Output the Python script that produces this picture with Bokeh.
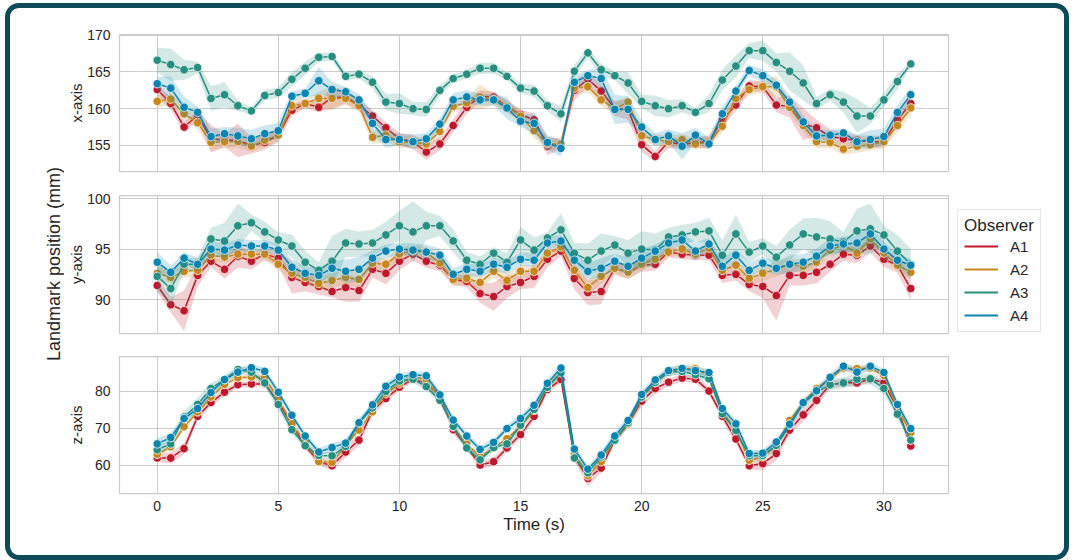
import numpy as np
from bokeh.plotting import figure
from bokeh.layouts import column, row
from bokeh.models import Range1d, FixedTicker, Legend, LegendItem, Title
from bokeh.embed import file_html
from bokeh.resources import INLINE

# ---------------- data ----------------
time_s = [0.00, 0.56, 1.11, 1.67, 2.22, 2.78, 3.33, 3.89, 4.44, 5.00,
          5.56, 6.11, 6.67, 7.22, 7.78, 8.33, 8.89, 9.44, 10.00, 10.56,
          11.11, 11.67, 12.22, 12.78, 13.33, 13.89, 14.44, 15.00, 15.56, 16.11,
          16.67, 17.22, 17.78, 18.33, 18.89, 19.44, 20.00, 20.56, 21.11, 21.67,
          22.22, 22.78, 23.33, 23.89, 24.44, 25.00, 25.56, 26.11, 26.67, 27.22,
          27.78, 28.33, 28.89, 29.44, 30.00, 30.56, 31.11]

observers = ["A1", "A2", "A3", "A4"]
colors = ["#c0182c", "#c8871e", "#268f80", "#0c85b0"]

# x-axis panel (mean and CI half width)
x_A1 = [162.6,160.7,157.5,159.1,155.9,155.7,155.7,155.0,155.4,156.4, 159.8,160.7,160.2,161.5,161.6,160.5,159.0,157.4,155.9,155.5,
        154.1,155.2,157.7,160.2,161.7,161.6,160.3,159.2,158.5,154.9, 155.2,162.5,164.0,162.4,160.0,159.9,155.1,153.5,155.5,155.1,
        155.4,155.5,158.5,160.5,163.1,163.0,160.5,160.3,157.9,157.4, 156.2,155.9,155.7,155.5,155.5,158.5,160.7]
x_A2 = [161.0,161.3,159.3,158.1,155.4,155.5,155.5,154.9,155.7,156.4, 160.4,160.7,161.4,161.4,161.4,160.4,156.1,156.4,155.5,155.4,
        155.2,156.9,160.3,160.8,161.6,161.3,160.3,159.0,157.0,155.2, 155.2,162.8,163.0,161.2,160.0,160.9,156.3,155.8,155.5,155.8,
        155.2,155.4,157.6,161.4,162.6,163.0,163.0,160.2,157.7,155.5, 155.4,154.5,154.9,155.1,155.5,157.7,160.1]
x_A3 = [166.6,166.0,165.3,165.6,161.4,161.9,160.4,159.7,161.8,162.2, 164.0,165.5,167.0,167.1,164.4,164.7,163.6,160.9,160.7,160.0,
        159.9,162.5,164.1,164.7,165.5,165.5,164.4,162.8,162.4,160.4, 159.3,165.1,167.6,165.3,164.5,163.5,161.0,160.4,160.0,160.4,
        159.5,160.7,163.9,165.8,167.9,167.9,166.3,165.1,163.5,160.7, 161.9,160.9,159.0,159.0,161.2,163.7,166.1]
x_A4 = [163.4,162.8,160.2,159.5,156.2,156.6,156.3,155.9,156.6,157.0, 161.7,162.1,163.8,162.6,162.3,161.2,158.0,155.8,155.8,155.5,
        155.9,157.9,161.2,161.6,161.2,161.2,160.1,158.3,158.0,155.4, 154.6,163.6,164.5,164.1,159.9,159.9,157.5,155.8,156.3,154.9,
        156.4,155.2,159.3,162.4,165.2,164.5,163.2,160.9,158.2,156.3, 156.4,156.7,155.5,155.8,156.2,159.5,161.9]
x_ci_A1 = [0.9,0.8,0.8,0.5,1.9,0.9,2.3,1.1,1.0,0.9, 0.8,0.6,0.7,1.5,0.9,0.8,0.8,0.8,0.8,1.0, 1.1,0.9,0.9,0.9,0.8,0.7,0.8,0.7,0.8,1.25,
           0.7,1.4,1.0,1.0,1.0,1.4,1.0,0.7,0.9,0.6, 0.7,0.9,0.9,0.8,0.8,0.7,1.0,1.5,2.2,1.1, 1.0,0.9,0.7,0.8,0.8,0.8,0.9]
x_ci_A2 = [0.8,0.9,0.9,0.9,1.1,0.8,0.8,0.8,0.9,0.9, 0.8,0.7,0.9,1.6,0.9,0.8,0.9,0.9,0.8,0.8, 0.9,0.8,0.8,0.8,1.7,0.8,0.8,0.8,1.0,0.9,
           0.7,0.8,0.8,0.8,0.9,0.8,0.8,0.8,0.8,0.8, 0.7,0.8,0.8,0.9,0.8,0.8,1.5,0.9,0.9,0.9, 0.8,0.8,0.9,0.8,0.9,0.9,1.0]
x_ci_A3 = [1.7,2.2,1.4,0.8,1.7,1.7,0.7,0.5,0.7,0.7, 1.0,0.9,0.6,0.5,0.6,0.6,0.8,1.1,1.4,0.9, 1.0,0.7,0.6,0.6,0.75,0.75,0.5,0.7,0.8,0.7,
           1.1,0.9,0.7,0.8,0.6,1.5,0.9,1.4,1.2,0.9, 0.6,1.2,1.4,1.5,1.0,1.4,1.25,2.6,2.4,0.9, 0.8,1.4,2.3,1.1,0.9,1.1,0.35]
x_ci_A4 = [0.9,1.6,1.4,0.8,1.1,0.9,1.1,1.25,1.1,1.1, 0.7,0.6,1.9,1.0,0.7,0.8,1.5,1.1,0.8,1.0, 0.8,0.8,0.9,0.9,0.8,0.8,1.5,0.8,1.4,1.0,
           1.1,0.9,0.8,1.4,2.0,1.8,0.9,0.9,0.9,1.8, 1.0,0.8,0.9,0.8,0.7,0.9,0.7,0.9,0.9,0.9, 0.7,0.6,1.0,1.25,1.1,1.0,1.0]

# y-axis panel
y_A1 = [91.4,89.5,88.9,92.4,93.8,93.0,94.3,93.8,94.5,94.1, 92.2,91.7,91.3,90.8,91.2,90.9,93.0,92.6,93.8,94.5,
        93.8,93.4,92.0,91.8,90.6,90.3,91.3,91.7,92.3,94.0, 94.8,92.1,90.7,90.8,93.1,92.7,93.4,93.5,94.7,94.5,
        94.4,94.4,92.4,92.5,91.5,91.3,90.4,92.4,92.4,92.7, 93.5,94.5,94.4,95.3,94.0,93.4,91.1]
y_A2 = [92.6,92.2,92.8,92.9,94.4,94.2,94.5,94.5,94.5,93.5, 92.6,92.2,91.6,91.9,92.2,92.0,93.6,93.5,94.5,94.8,
        94.7,93.6,92.0,92.1,91.7,92.8,91.9,92.8,92.8,94.6, 95.2,92.9,91.2,92.3,93.1,92.7,93.5,94.0,94.7,95.0,
        94.5,95.1,92.9,93.4,92.1,92.6,93.0,93.5,93.3,93.7, 94.9,95.4,94.6,96.0,94.6,93.4,92.7]
y_A3 = [92.3,91.1,93.5,93.5,96.0,95.8,97.3,97.6,96.7,95.9, 95.3,93.7,92.9,93.8,95.6,95.5,95.6,96.4,97.3,96.7,
        97.3,97.3,95.8,93.9,93.5,94.6,93.7,95.9,94.9,96.1, 96.9,94.6,93.9,94.8,95.4,94.6,95.0,94.9,96.2,96.4,
        96.7,96.8,94.4,96.5,94.7,95.3,94.2,95.4,96.5,96.2, 96.0,95.7,96.8,97.0,96.4,94.8,93.5]
y_A4 = [93.7,92.7,94.1,93.5,95.0,94.9,95.4,95.3,95.3,94.9, 93.2,92.6,92.4,93.1,92.8,93.0,94.1,94.8,95.0,94.9,
        94.7,94.4,92.5,93.0,92.8,93.5,93.2,94.0,93.9,95.6, 95.8,93.9,92.8,93.1,93.8,93.3,94.1,94.8,95.6,95.9,
        94.8,95.5,93.3,94.4,92.9,93.6,93.1,93.5,93.7,94.3, 95.3,95.5,95.6,96.5,95.0,93.9,93.4]
y_ci_A1 = [0.65,0.75,2.0,1.1,0.6,0.9,1.15,0.8,0.6,0.75, 1.6,0.9,0.8,0.6,1.4,1.1,0.8,1.1,0.9,0.65, 0.65,0.6,0.5,0.6,0.9,1.4,1.15,0.65,1.15,0.8,
           0.5,1.1,1.25,1.25,0.6,0.65,0.65,0.65,0.5,0.5, 0.5,0.5,0.75,0.6,0.65,1.15,2.5,1.0,1.0,1.1, 0.75,0.65,0.8,0.65,0.75,0.75,1.15]
y_ci_A2 = [0.7,0.6,0.6,0.6,0.6,0.6,0.55,0.5,0.55,0.6, 0.65,0.6,0.65,0.7,0.75,0.8,0.65,0.6,0.55,0.55, 0.55,0.6,0.7,0.65,0.7,0.6,0.7,0.6,0.6,0.55,
           0.5,0.65,0.8,0.7,0.6,0.65,0.6,0.55,0.5,0.5, 0.55,0.5,0.65,0.6,0.7,0.75,0.7,0.65,0.65,0.6, 0.55,0.55,0.6,0.55,0.6,0.6,0.65]
y_ci_A3 = [1.4,1.8,0.6,0.65,1.1,1.8,2.2,0.8,1.0,0.75, 1.15,1.1,0.8,2.5,1.4,1.25,1.3,1.3,1.5,3.0, 1.4,1.0,1.15,0.8,0.8,0.6,0.9,1.3,1.25,0.6,
           1.65,1.0,1.65,1.75,0.9,1.3,1.8,1.65,0.9,1.0, 0.9,1.3,1.5,1.9,1.0,0.8,1.1,1.5,1.5,1.9, 1.75,1.0,2.2,2.5,0.9,1.6,1.5]
y_ci_A4 = [1.0,0.65,0.6,0.65,0.75,0.65,0.6,0.6,0.6,0.6, 0.75,0.65,0.75,0.75,1.15,1.25,0.75,0.65,0.6,0.65, 0.75,0.65,0.6,0.65,0.6,0.65,0.65,0.65,0.65,0.65,
           0.6,0.75,0.8,1.0,0.75,0.9,0.9,0.65,0.6,0.65, 0.9,0.6,0.75,0.65,0.8,0.65,0.65,0.9,0.8,0.75, 0.75,0.75,0.75,0.75,0.75,0.65,0.65]

# z-axis panel
z_A1 = [62.0,62.0,64.5,73.2,76.9,79.7,81.7,81.9,82.0,77.0, 71.0,65.3,61.0,59.9,63.6,66.8,74.7,78.0,81.0,83.3,
        82.0,78.9,69.6,65.1,60.1,61.0,64.7,68.3,73.2,80.4, 83.1,62.3,56.5,59.3,66.8,71.1,77.3,80.7,82.4,83.5,
        83.2,80.0,73.2,67.1,59.9,60.5,63.2,69.5,73.6,77.5, 81.7,82.3,82.2,83.2,82.3,75.3,65.2]
z_A2 = [63.0,65.0,70.4,74.4,78.4,81.8,83.6,83.8,83.6,78.0, 71.2,66.3,61.0,60.8,65.4,69.5,74.4,79.3,82.0,83.8,
        83.1,78.0,70.4,65.8,62.3,64.7,67.2,70.5,74.8,81.1, 85.1,63.2,57.2,61.0,66.8,71.1,78.4,82.3,85.1,86.0,
        86.0,84.2,74.4,69.5,61.4,62.3,65.4,72.1,76.9,80.7, 83.3,86.2,86.0,86.2,84.2,75.3,68.8]
z_A3 = [64.2,65.8,73.0,76.4,80.7,83.1,85.8,85.1,82.2,76.4, 69.6,65.3,62.7,62.6,65.1,71.5,75.5,79.9,82.7,83.2,
        81.2,77.5,70.5,64.7,61.5,64.8,65.8,70.8,75.1,81.0, 84.9,62.0,58.0,62.3,66.8,71.5,78.4,82.3,85.1,85.3,
        84.4,83.3,73.9,69.4,62.6,62.7,65.4,70.8,76.6,79.8, 81.7,82.2,83.2,83.3,80.7,73.8,66.8]
z_A4 = [65.8,67.5,72.6,75.3,79.6,83.1,85.1,86.3,85.3,79.7, 73.5,67.9,63.6,64.8,66.0,71.5,76.3,81.3,83.8,84.4,
        84.1,79.0,72.2,67.9,64.3,66.2,69.9,72.6,76.2,82.1, 86.2,64.4,59.0,62.8,67.9,72.1,79.1,83.0,85.5,86.1,
        85.5,85.0,75.3,71.2,63.2,63.3,66.3,71.1,76.9,80.1, 83.7,86.7,85.1,86.7,85.0,76.4,69.9]
z_ci_A1 = [1.0,1.5,1.5,1.2,1.0,1.0,0.8,0.8,0.8,1.0, 1.0,1.0,1.0,1.2,1.5,1.5,1.2,1.0,1.0,0.8, 0.8,1.0,1.0,1.0,1.0,1.2,1.0,1.0,1.2,1.0,
           1.0,1.0,2.2,1.2,1.0,1.0,1.5,1.5,1.0,1.0, 1.0,1.0,1.2,1.2,1.0,1.8,1.8,1.2,1.8,1.5, 1.0,1.0,1.0,0.8,1.0,1.0,1.0]
z_ci_A2 = [0.9,0.9,0.8,0.8,0.8,0.8,0.8,0.8,0.9,0.9, 0.9,0.9,0.9,0.9,0.9,0.8,0.8,0.8,0.9,1.2, 1.0,0.9,0.8,0.8,0.8,0.8,0.8,0.8,0.8,0.8,
           0.8,0.9,1.0,0.9,0.8,0.8,0.8,0.8,1.0,1.2, 1.2,1.0,0.9,0.8,0.8,0.8,0.8,0.9,0.9,0.8, 0.8,0.9,1.0,0.9,0.9,0.9,0.9]
z_ci_A3 = [1.2,1.2,1.5,1.8,1.5,1.0,1.0,1.0,1.2,1.5, 1.2,1.0,1.0,1.0,1.0,1.0,1.0,1.2,1.0,1.0, 1.0,1.0,1.0,1.0,1.0,1.0,1.0,1.0,1.0,1.0,
           1.0,1.0,1.2,1.0,1.0,1.0,1.0,1.0,1.0,1.0, 1.0,1.0,1.0,1.0,1.2,1.2,1.0,1.0,1.0,1.0, 1.5,1.5,1.5,1.5,1.5,1.2,1.2]
z_ci_A4 = [1.5,1.2,1.0,1.0,1.0,1.0,1.0,1.0,1.0,1.0, 1.0,1.0,1.0,1.2,1.0,1.0,1.0,1.0,1.0,1.0, 1.0,1.0,1.0,1.0,1.0,1.0,1.0,1.0,1.0,1.0,
           1.2,1.0,1.0,1.0,1.0,1.0,1.0,1.0,1.0,1.0, 1.0,1.0,1.0,1.0,1.0,1.0,1.0,1.0,1.0,1.0, 1.0,1.0,1.0,1.0,1.0,1.0,1.0]

x_ticks = [0, 5, 10, 15, 20, 25, 30]
panel_labels = ["x-axis", "y-axis", "z-axis"]
panel_yticks = [[155, 160, 165, 170], [90, 95, 100], [60, 70, 80]]
panel_yranges = [(151.45, 170.1), (86.65, 100.3), (52.45, 89.3)]
y_label_common = "Landmark position (mm)"
x_label = "Time (s)"
legend_title = "Observer"

panel_means = [[x_A1, x_A2, x_A3, x_A4], [y_A1, y_A2, y_A3, y_A4], [z_A1, z_A2, z_A3, z_A4]]
panel_cis = [[x_ci_A1, x_ci_A2, x_ci_A3, x_ci_A4], [y_ci_A1, y_ci_A2, y_ci_A3, y_ci_A4],
             [z_ci_A1, z_ci_A2, z_ci_A3, z_ci_A4]]

FONT = "Liberation Sans"
TXT = "#262626"
GRID = "#cccccc"

# geometry (inner area of the rounded frame)
inner_w, inner_h = 1054, 547
lab_w = 54          # strip holding the common y label
leg_w = 112         # strip holding the legend
main_left = 55
main_right = 4
fig_w = inner_w - lab_w - leg_w
heights = [174, 162, 211]
tops = [26, 13, 12]
bottoms = [11, 11, 62]
label_standoffs = [-1, -1, 7]

figs = []
for k in range(3):
    p = figure(width=fig_w, height=heights[k],
               x_range=Range1d(-1.556, 32.667), y_range=Range1d(*panel_yranges[k]),
               output_backend="svg", toolbar_location=None,
               min_border_left=main_left, min_border_right=main_right,
               min_border_top=tops[k], min_border_bottom=bottoms[k])
    p.outline_line_color = GRID
    p.outline_line_width = 1.25
    p.background_fill_color = "white"
    p.border_fill_color = "white"

    p.xaxis.ticker = FixedTicker(ticks=x_ticks)
    p.yaxis.ticker = FixedTicker(ticks=panel_yticks[k])
    p.xgrid.ticker = FixedTicker(ticks=x_ticks)
    p.ygrid.ticker = FixedTicker(ticks=panel_yticks[k])
    p.grid.grid_line_color = GRID
    p.grid.grid_line_width = 1

    for ax in p.axis:
        ax.axis_line_color = None
        ax.major_tick_line_color = None
        ax.minor_tick_line_color = None
        ax.major_tick_out = 0
        ax.major_tick_in = 0
        ax.major_label_text_font = FONT
        ax.major_label_text_font_size = "14px"
        ax.major_label_text_color = TXT
        ax.axis_label_text_font = FONT
        ax.axis_label_text_font_size = "15px"
        ax.axis_label_text_font_style = "normal"
        ax.axis_label_text_color = TXT

    p.yaxis.axis_label = panel_labels[k]
    p.yaxis.major_label_standoff = 9
    p.yaxis.axis_label_standoff = label_standoffs[k]

    if k < 2:
        p.xaxis.visible = False
    else:
        p.xaxis.axis_label = x_label
        p.xaxis.major_label_standoff = 7
        p.xaxis.axis_label_standoff = 1
        p.xaxis.axis_label_text_font_size = "17px"

    t = np.array(time_s)
    for j in range(4):
        m = np.array(panel_means[k][j])
        h = np.array(panel_cis[k][j])
        c = colors[j]
        p.line(t, m, line_color=c, line_width=1.5)
        p.scatter(t, m, size=8.5, fill_color=c, line_color="white", line_width=0.9)
        p.varea(x=t, y1=m - h, y2=m + h, fill_color=c, fill_alpha=0.2)
    figs.append(p)

# narrow figure carrying the common y label, spanning all panels
lab = figure(width=lab_w, height=inner_h, x_range=Range1d(0, 1), y_range=Range1d(0, 1),
             output_backend="svg", toolbar_location=None,
             min_border_left=lab_w - 1, min_border_right=0,
             min_border_top=26, min_border_bottom=62)
lab.xaxis.visible = False
lab.yaxis.visible = False
lab.grid.visible = False
lab.outline_line_color = None
lab.background_fill_color = "white"
lab.border_fill_color = "white"
lab.add_layout(Title(text=y_label_common, align="center", text_font=FONT,
                     text_font_size="18px", text_font_style="normal",
                     text_color=TXT, standoff=0), "left")

# strip on the right holding the legend (its frame is aligned with the panels)
leg = figure(width=leg_w, height=inner_h, x_range=Range1d(0, 1), y_range=Range1d(0, 1),
             output_backend="svg", toolbar_location=None,
             min_border_left=0, min_border_right=0, min_border_top=0, min_border_bottom=0)
leg.xaxis.visible = False
leg.yaxis.visible = False
leg.grid.visible = False
leg.outline_line_color = None
leg.background_fill_color = "white"
leg.border_fill_color = "white"
nan_pt = [float("nan")]
leg_rends = [leg.line(x=nan_pt, y=nan_pt, line_color=colors[j], line_width=2) for j in range(4)]
legend = Legend(items=[LegendItem(label=observers[j], renderers=[leg_rends[j]]) for j in range(4)],
                title=legend_title, location=(5, 161))
legend.title_text_font = FONT
legend.title_text_font_size = "17px"
legend.title_text_font_style = "normal"
legend.title_text_color = TXT
legend.label_text_font = FONT
legend.label_text_font_size = "15px"
legend.label_text_color = TXT
legend.glyph_width = 34
legend.glyph_height = 20
legend.label_height = 20
legend.label_standoff = 12
legend.spacing = 3
legend.padding = 6
legend.margin = 0
legend.border_line_color = GRID
legend.border_line_width = 1
legend.title_standoff = 0
leg.add_layout(legend, "center")

layout = row(lab, column(*figs, spacing=0), leg, spacing=0)

page_template = """
{% block postamble %}
<style>
  .outer-frame {
    display: block;
    width: fit-content;
    margin: 3px 0 0 5px;
    border: 5px solid #0e4b58;
    border-radius: 14px;
    background: white;
    overflow: hidden;
    line-height: 0;
  }
</style>
{% endblock %}
{% block contents %}
<div class="outer-frame">
{{ super() }}
</div>
{% endblock %}
"""

open("out.html", "w").write(file_html(layout, INLINE, template=page_template))
